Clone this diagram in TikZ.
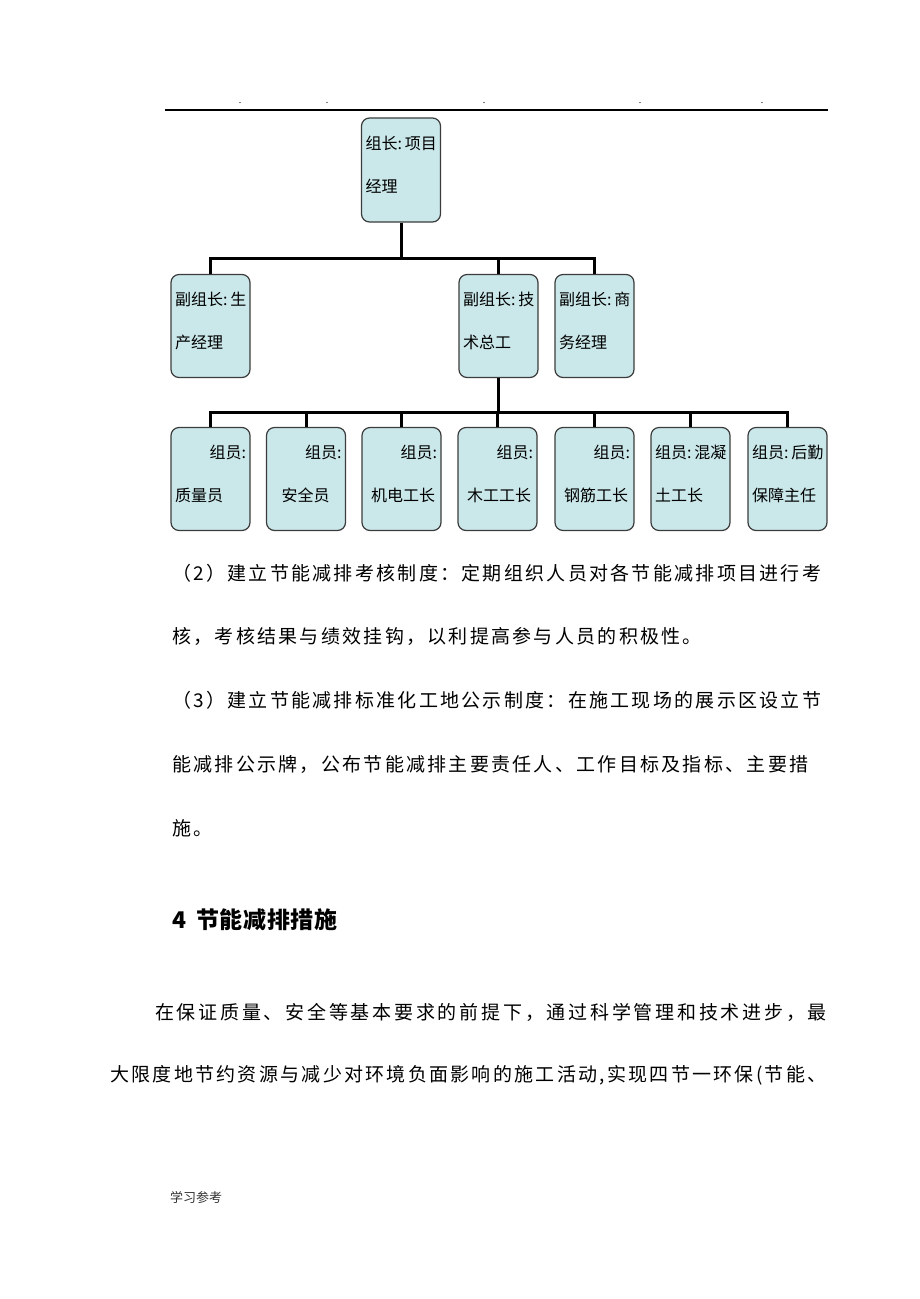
\documentclass[tikz,border=0pt]{standalone}
\usepackage{fontspec}
\setmainfont{Noto Sans CJK SC}
\newfontfamily\cjk{Noto Sans CJK SC}
\newfontfamily\cjkls{Noto Sans CJK SC}[LetterSpace=12]
\newfontfamily\cjklw{Noto Sans CJK SC}[LetterSpace=14.5]
\newfontfamily\cjkhd{Noto Sans CJK SC}[LetterSpace=3]
\definecolor{boxfill}{HTML}{CAE7EA}
\definecolor{boxline}{HTML}{3C3C3C}
\definecolor{foot}{HTML}{333333}
\begin{document}
\begin{tikzpicture}[x=1pt,y=-1pt,
  orgbox/.style={draw=boxline, line width=1.2pt, fill=boxfill, rounded corners=8pt,
    minimum height=103pt, inner xsep=4pt, inner ysep=0pt, text width=71pt,
    text depth=54pt, align=left, font=\cjk\fontsize{16}{43}\selectfont},
  conn/.style={line width=3pt, line join=miter},
  para/.style={anchor=west, inner sep=0pt, font=\cjkls\fontsize{19}{19}\selectfont},
  dot/.style={inner sep=0pt, font=\fontsize{9}{9}\selectfont},
]
\useasboundingbox (0,0) rectangle (920,1299);

% header rule with dots
\draw[line width=1.2pt] (165,110) -- (828,110);
\node[dot] (d1) at (240,103) {.};
\node[dot] (d2) at (327,103) {.};
\node[dot] (d3) at (484,103) {.};
\node[dot] (d4) at (640,103) {.};
\node[dot] (d5) at (762,103) {.};

% organisation chart
\node[orgbox, minimum height=104pt] (top) at (401,170) {\mbox{组长:\hspace{3pt}项目}\\经理};

\node[orgbox] (b1) at (210.5,326) {\mbox{副组长:\hspace{3pt}生}\\产经理};
\node[orgbox] (b2) at (498.5,326) {\mbox{副组长:\hspace{3pt}技}\\术总工};
\node[orgbox] (b3) at (594.5,326) {\mbox{副组长:\hspace{3pt}商}\\务经理};

\node[orgbox] (c1) at (210.5,479) {\hspace*{\fill}组员:\\质量员};
\node[orgbox] (c2) at (306,479) {\hspace*{\fill}组员:\\\hspace*{11pt}安全员};
\node[orgbox] (c3) at (401.5,479) {\hspace*{\fill}组员:\\\hspace*{5pt}机电工长};
\node[orgbox] (c4) at (497.5,479) {\hspace*{\fill}组员:\\\hspace*{5pt}木工工长};
\node[orgbox] (c5) at (594.5,479) {\hspace*{\fill}组员:\\\hspace*{5pt}钢筋工长};
\node[orgbox] (c6) at (690.5,479) {\mbox{组员:\hspace{3pt}混凝}\\土工长};
\node[orgbox] (c7) at (787.5,479) {\mbox{组员:\hspace{3pt}后勤}\\保障主任};

\coordinate (j1) at (top.south |- 0,258);
\coordinate (j2) at (b2.south |- 0,412);
\draw[conn] (top.south) -- (j1);
\draw[conn] (j1) -| (b1.north);
\draw[conn] (j1) -| (b2.north);
\draw[conn] (j1) -| (b3.north);
\draw[conn] (b2.south) -- (j2);
\foreach \n in {c1,c2,c3,c4,c5,c6,c7} {
  \draw[conn] (j2) -| (\n.north);
}

% body text
\node[para] (p1) at (172,573) {（2）建立节能减排考核制度：定期组织人员对各节能减排项目进行考};
\node[para] (p2) at (172,636) {核，考核结果与绩效挂钩，以利提高参与人员的积极性。};
\node[para] (p3) at (172,700) {（3）建立节能减排标准化工地公示制度：在施工现场的展示区设立节};
\node[para] (p4) at (172,764) {能减排公示牌，公布节能减排主要责任人、工作目标及指标、主要措};
\node[para] (p5) at (172,828) {施。};

\node[anchor=west, inner sep=0pt, font=\cjkhd\bfseries\fontsize{23}{23}\selectfont] (h4) at (172,920) {4\hspace{10pt}节能减排措施};

\node[para, font=\cjklw\fontsize{19}{19}\selectfont] (q1) at (155,1012) {在保证质量、安全等基本要求的前提下，通过科学管理和技术进步，最};
\node[para] (q2) at (110,1075) {大限度地节约资源与减少对环境负面影响的施工活动,实现四节一环保(节能、};

\node[anchor=west, inner sep=0pt, text=foot, font=\cjk\fontsize{13}{13}\selectfont] (ft) at (170,1197) {学习参考};
\end{tikzpicture}
\end{document}
